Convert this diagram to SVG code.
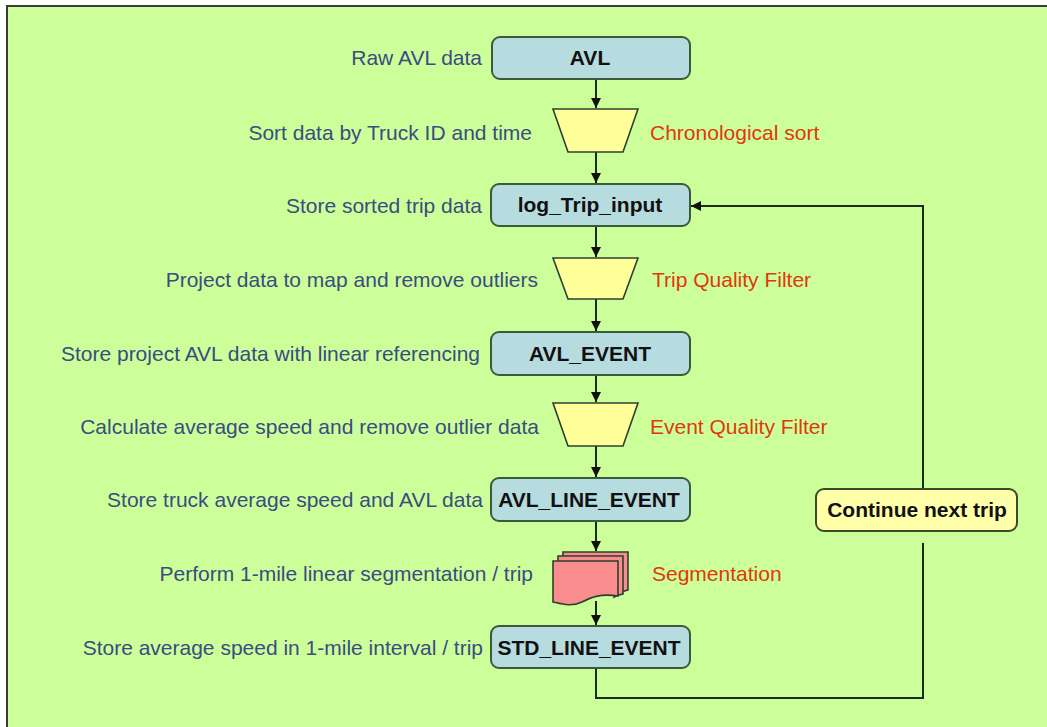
<svg xmlns="http://www.w3.org/2000/svg" width="1047" height="727" viewBox="0 0 1047 727">
<defs>
<style>
.frame{fill:#CCFF99;stroke:#3a3a3a;stroke-width:2}
.box{fill:#B7DCDF;stroke:#3b5a3b;stroke-width:2}
.trap{fill:#FFFF99;stroke:#2f3f2f;stroke-width:1.6}
.seg{fill:#F98C8C;stroke:#2f3f2f;stroke-width:1.6}
.note{fill:#FFFFAA;stroke:#3b4a2b;stroke-width:2}
.lbl{font-family:"Liberation Sans",Arial,sans-serif;font-size:21px;fill:#3B4C80;text-anchor:end}
.red{font-family:"Liberation Sans",Arial,sans-serif;font-size:21px;fill:#E0380E}
.bt{font-family:"Liberation Sans",Arial,sans-serif;font-size:21px;font-weight:bold;fill:#111;text-anchor:middle}
.ln{fill:none;stroke:#1f2a1f;stroke-width:2}
</style>
<marker id="ah" viewBox="0 0 10 10" refX="10" refY="5" markerWidth="10" markerHeight="10" markerUnits="userSpaceOnUse" orient="auto">
<path d="M0,0 L10,5 L0,10 z" fill="#111"/>
</marker>
</defs>
<rect x="0" y="0" width="1047" height="727" fill="#ffffff"/>
<rect class="frame" x="7" y="6" width="1060" height="740"/>

<g id="connectors">
<path class="ln" d="M596 79 V108" marker-end="url(#ah)"/>
<path class="ln" d="M596 152 V183" marker-end="url(#ah)"/>
<path class="ln" d="M596 226 V257" marker-end="url(#ah)"/>
<path class="ln" d="M596 299 V331" marker-end="url(#ah)"/>
<path class="ln" d="M596 375 V402" marker-end="url(#ah)"/>
<path class="ln" d="M596 446 V477" marker-end="url(#ah)"/>
<path class="ln" d="M596 521 V551" marker-end="url(#ah)"/>
<path class="ln" d="M596 601 V625" marker-end="url(#ah)"/>
<path class="ln" d="M596 668 V698 H923 V543"/>
<path class="ln" d="M923 489 V206 H691" marker-end="url(#ah)"/>
</g>

<g id="avl">
<rect class="box" x="492" y="37" width="198" height="42" rx="8"/>
<text class="bt" x="590" y="65">AVL</text>
<text class="lbl" x="482" y="65">Raw AVL data</text>
</g>

<g id="chrono">
<polygon class="trap" points="553,109 638,109 623,152 568,152"/>
<text class="lbl" x="532" y="140">Sort data by Truck ID and time</text>
<text class="red" x="650" y="140">Chronological sort</text>
</g>

<g id="log_trip_input">
<rect class="box" x="491" y="184" width="199" height="42" rx="8"/>
<text class="bt" x="590" y="212">log_Trip_input</text>
<text class="lbl" x="482" y="213">Store sorted trip data</text>
</g>

<g id="trip_filter">
<polygon class="trap" points="553,258 638,258 623,299 568,299"/>
<text class="lbl" x="538" y="287">Project data to map and remove outliers</text>
<text class="red" x="652" y="287">Trip Quality Filter</text>
</g>

<g id="avl_event">
<rect class="box" x="491" y="332" width="199" height="43" rx="8"/>
<text class="bt" x="590" y="361">AVL_EVENT</text>
<text class="lbl" x="480" y="361">Store project AVL data with linear referencing</text>
</g>

<g id="event_filter">
<polygon class="trap" points="553,403 638,403 623,446 568,446"/>
<text class="lbl" x="539" y="434">Calculate average speed and remove outlier data</text>
<text class="red" x="650" y="434">Event Quality Filter</text>
</g>

<g id="avl_line_event">
<rect class="box" x="491" y="478" width="199" height="43" rx="8"/>
<text class="bt" x="589" y="507">AVL_LINE_EVENT</text>
<text class="lbl" x="483" y="507">Store truck average speed and AVL data</text>
</g>

<g id="segmentation">
<path class="seg" d="M563 552 H628 V590 Q620 592 618 594 V561 H563 Z"/>
<path class="seg" d="M558 556 H623 V594 Q617 595 614 597 V566 H558 Z"/>
<path class="seg" d="M553 561 H618 V596 C600 593 590 598 582 602 C572 607 562 604 553 602 Z"/>
<text class="lbl" x="533" y="581">Perform 1-mile linear segmentation / trip</text>
<text class="red" x="652" y="581">Segmentation</text>
</g>

<g id="std_line_event">
<rect class="box" x="491" y="626" width="199" height="42" rx="8"/>
<text class="bt" x="589" y="655">STD_LINE_EVENT</text>
<text class="lbl" x="483" y="655">Store average speed in 1-mile interval / trip</text>
</g>

<g id="continue">
<rect class="note" x="816" y="489" width="201" height="42" rx="8"/>
<text class="bt" x="917" y="517">Continue next trip</text>
</g>
</svg>
